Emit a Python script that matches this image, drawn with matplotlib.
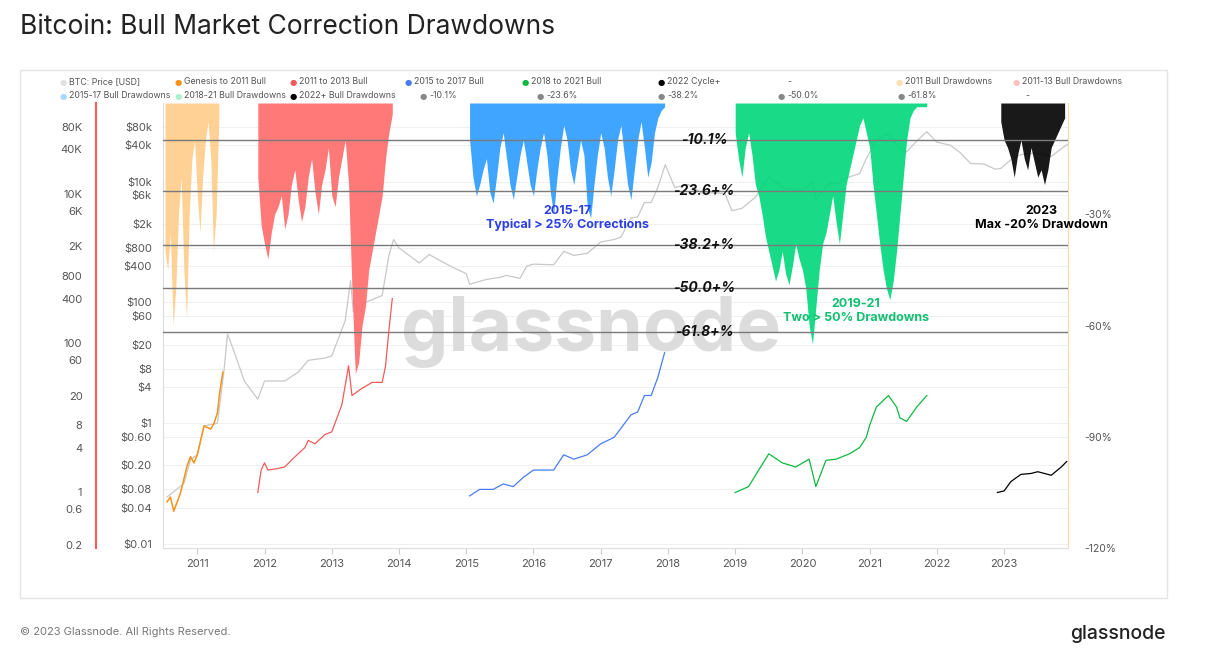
import matplotlib
matplotlib.use("Agg")
import matplotlib.pyplot as plt
import numpy as np
from matplotlib.ticker import FixedLocator, NullLocator

plt.rcParams['font.family'] = ['Inter', 'DejaVu Sans']

# ---------------- data ----------------
price_t = [2010.55,2010.8,2010.9,2011.0,2011.1,2011.3,2011.4,2011.45,2011.55,2011.7,2011.9,2012.0,2012.3,2012.5,2012.65,2012.9,2013.0,2013.2,2013.28,2013.32,2013.5,2013.75,2013.85,2013.92,2014.0,2014.15,2014.3,2014.45,2014.6,2014.8,2015.0,2015.05,2015.3,2015.5,2015.6,2015.8,2015.9,2016.0,2016.3,2016.45,2016.6,2016.8,2017.0,2017.2,2017.3,2017.45,2017.55,2017.65,2017.75,2017.85,2017.96,2018.1,2018.3,2018.5,2018.7,2018.85,2018.95,2019.1,2019.3,2019.5,2019.7,2019.9,2020.0,2020.15,2020.2,2020.4,2020.55,2020.65,2020.85,2020.95,2021.1,2021.28,2021.45,2021.55,2021.7,2021.85,2022.0,2022.2,2022.35,2022.5,2022.7,2022.87,2022.95,2023.1,2023.25,2023.5,2023.7,2023.85,2023.95]
price_v = [0.06,0.1,0.25,0.3,0.9,1.0,8,30,15,5,2.5,5,5,7,11,12,13,50,230,70,100,130,600,1100,800,600,450,620,500,380,300,200,240,260,280,250,400,430,420,700,600,650,1000,1100,1200,2500,2600,4500,4500,8000,19000,8000,9000,6500,6500,6300,3300,3600,5500,12000,8000,7200,7200,9800,5000,9500,9200,11500,13500,24000,48000,63000,35000,31000,47000,67000,45000,40000,30000,20000,19500,16000,16500,23000,28000,30000,26000,35000,42000]

genesis_t = [2010.55,2010.6,2010.65,2010.75,2010.85,2010.9,2010.95,2011.0,2011.1,2011.15,2011.2,2011.25,2011.3,2011.33,2011.38]
genesis_v = [0.05,0.06,0.035,0.07,0.2,0.28,0.22,0.3,0.9,0.85,0.8,1.0,1.5,3,7]

bull13_t = [2011.9,2011.95,2012.0,2012.05,2012.2,2012.3,2012.45,2012.6,2012.65,2012.75,2012.9,2013.0,2013.15,2013.25,2013.3,2013.45,2013.6,2013.75,2013.8,2013.85,2013.9]
bull13_v = [1,2,2.5,2,2.1,2.2,3,4,5,4.5,6,6.5,15,50,20,25,30,30,50,150,400]

bull17_t = [2015.05,2015.2,2015.4,2015.55,2015.7,2015.85,2016.0,2016.3,2016.45,2016.6,2016.8,2017.0,2017.2,2017.45,2017.55,2017.65,2017.75,2017.85,2017.95]
bull17_v = [0.9,1.1,1.1,1.3,1.2,1.6,2.0,2.0,3.2,2.8,3.2,4.5,5.5,11,12,20,20,35,75]

bull21_t = [2019.0,2019.2,2019.35,2019.5,2019.7,2019.9,2020.1,2020.2,2020.35,2020.5,2020.7,2020.85,2020.95,2021.0,2021.1,2021.28,2021.4,2021.45,2021.55,2021.7,2021.85]
bull21_v = [1.0,1.2,2.0,3.3,2.5,2.2,2.8,1.2,2.7,2.8,3.3,4,5.5,8,14,20,14,10,9,14,20]

cyc22_t = [2022.9,2023.0,2023.1,2023.25,2023.4,2023.5,2023.6,2023.7,2023.85,2023.93]
cyc22_v = [1.0,1.05,1.4,1.75,1.8,1.9,1.8,1.7,2.2,2.6]

dd11_t = list(np.round(np.arange(2010.52, 2011.34, 0.04), 2))
dd11_v = [-40,-45,-35,-60,-50,-30,-20,-45,-58,-30,-15,-10,-25,-35,-20,-10,-5,-15,-40,-30,-5]

dd13_t = list(np.round(np.arange(2011.9, 2013.93, 0.05), 2))
dd13_v = [-20,-33,-38,-42,-35,-30,-28,-25,-34,-30,-22,-18,-26,-32,-28,-20,-15,-24,-30,-22,-18,-12,-25,-28,-20,-15,-10,-22,-50,-73,-70,-60,-55,-45,-40,-35,-30,-25,-15,-8,-3]

dd17_t = list(np.round(np.arange(2015.05, 2017.96, 0.05), 2))
dd17_v = [-10,-20,-25,-22,-18,-15,-24,-27,-20,-12,-8,-15,-22,-26,-20,-14,-10,-16,-22,-25,-18,-12,-8,-14,-24,-30,-20,-12,-6,-10,-18,-22,-16,-10,-14,-28,-31,-22,-14,-8,-12,-20,-25,-18,-10,-6,-14,-22,-26,-18,-10,-5,-12,-20,-16,-8,-4,-2,-1]

dd21_t = list(np.round(np.arange(2019.0, 2021.86, 0.05), 2))
dd21_v = [-8,-15,-20,-12,-8,-14,-22,-25,-30,-36,-40,-44,-48,-45,-40,-46,-49,-44,-38,-42,-45,-50,-60,-65,-55,-45,-38,-35,-30,-25,-32,-38,-30,-22,-18,-14,-10,-6,-4,-8,-12,-22,-30,-38,-45,-50,-53,-48,-40,-30,-20,-10,-4,-2,-1,-1,-1,-1]

dd23_t = list(np.round(np.arange(2022.95, 2023.91, 0.05), 2))
dd23_v = [-5,-10,-12,-15,-20,-14,-10,-15,-18,-12,-16,-20,-18,-22,-18,-12,-10,-8,-6,-4]

fib_levels = [-10.1, -23.6, -38.2, -50.0, -61.8]
fib_labels = ['-10.1%', '-23.6+%', '-38.2+%', '-50.0+%', '-61.8+%']
years = list(range(2011, 2024))
price_ticks = [0.01,0.04,0.08,0.2,0.6,1,4,8,20,60,100,400,800,2000,6000,10000,40000,80000]
price_tick_labels = ['$0.01','$0.04','$0.08','$0.20','$0.60','$1','$4','$8','$20','$60','$100','$400','$800','$2k','$6k','$10k','$40k','$80k']
mult_ticks = [0.2,0.6,1,4,8,20,60,100,400,800,2000,6000,10000,40000,80000]
mult_tick_labels = ['0.2','0.6','1','4','8','20','60','100','400','800','2K','6K','10K','40K','80K']
dd_ticks = [-30,-60,-90,-120]

# ---------------- figure ----------------
W, H = 1220, 672
fig = plt.figure(figsize=(W/100, H/100), dpi=100)
def fx(x): return x / W
def fy(y): return 1 - y / H

fig.add_artist(plt.Rectangle((fx(20), fy(598)), fx(1167)-fx(20), fy(70)-fy(598),
                             fill=False, ec='#e4e4e4', lw=1, transform=fig.transFigure))

ax = fig.add_axes([fx(163), fy(548), fx(1068)-fx(163), fy(103)-fy(548)])
ax.set_xlim(2010.49, 2023.95)
ax.set_yscale('log')
ax.set_ylim(0.0086, 200000)
ax.yaxis.set_major_locator(FixedLocator(price_ticks))
ax.yaxis.set_minor_locator(NullLocator())
ax.set_yticklabels(price_tick_labels)
ax.set_xticks(years)
ax.set_xticklabels([str(y) for y in years])
ax.tick_params(axis='both', labelsize=8, colors='#555555', length=0, pad=8)
ax.tick_params(axis='x', length=4, color='#cccccc', pad=4)
for s in ['top', 'right']:
    ax.spines[s].set_visible(False)
ax.spines['left'].set_color('#dddddd')
ax.spines['bottom'].set_color('#dddddd')
for t in price_ticks:
    ax.axhline(t, color='#eeeeee', lw=0.6, zorder=0)
ax.plot(price_t, price_v, color='#c8c8c8', lw=0.9, zorder=1)
ax.text(0.473, 0.485, 'glassnode', transform=ax.transAxes, fontsize=54, color='#dcdcdc',
        ha='center', va='center', fontweight='bold', zorder=0)
ax.plot(genesis_t, genesis_v, color='#f7931a', lw=1.1, zorder=3)

# drawdown axis
ax3 = ax.twinx()
ax3.set_ylim(-120, 0)
ax3.set_yticks(dd_ticks)
ax3.set_yticklabels([f'{t}%' for t in dd_ticks])
ax3.tick_params(labelsize=7.5, colors='#555555', length=0, pad=12)
for s in ['top', 'left', 'bottom']:
    ax3.spines[s].set_visible(False)
ax3.spines['right'].set_color('#ffd9b0')
for t, v, c in [(dd11_t, dd11_v, '#ffcc88'), (dd13_t, dd13_v, '#ff6b6b'),
                (dd17_t, dd17_v, '#2b9bff'), (dd21_t, dd21_v, '#00d67a'),
                (dd23_t, dd23_v, '#000000')]:
    ax3.fill_between(t, 0, v, color=c, lw=0, alpha=0.9, zorder=2)
for lv, lb in zip(fib_levels, fib_labels):
    ax3.axhline(lv, color='#7a7a7a', lw=1, zorder=4)
    ax3.text(2018.54, lv, lb, fontsize=10, fontstyle='italic', fontweight='bold',
             ha='center', va='center', color='#111111', zorder=5)
ax3.text(2016.5, -31, '2015-17\nTypical > 25% Corrections', color='#2a3fe8', fontsize=9,
         fontweight='bold', ha='center', va='center', zorder=6)
ax3.text(2020.8, -56, '2019-21\nTwo > 50% Drawdowns', color='#10c070', fontsize=9,
         fontweight='bold', ha='center', va='center', zorder=6)
ax3.text(2023.55, -31, '2023\nMax -20% Drawdown', color='#000000', fontsize=9,
         fontweight='bold', ha='center', va='center', zorder=6)

# multiple axis (outer left)
ax2 = ax.twinx()
ax2.set_yscale('log')
ax2.set_ylim(0.18, 168000)
ax2.yaxis.set_ticks_position('left')
ax2.yaxis.set_label_position('left')
ax2.spines['left'].set_position(('outward', 48))
ax2.spines['left'].set_color('#ff5a5a')
ax2.spines['left'].set_linewidth(1.5)
for s in ['top', 'right', 'bottom']:
    ax2.spines[s].set_visible(False)
ax2.yaxis.set_major_locator(FixedLocator(mult_ticks))
ax2.yaxis.set_minor_locator(NullLocator())
ax2.set_yticklabels(mult_tick_labels)
ax2.tick_params(labelsize=8, colors='#555555', length=0, pad=10)
ax2.plot(bull13_t, bull13_v, color='#f45a5a', lw=0.9)
ax2.plot(bull17_t, bull17_v, color='#4a7cf0', lw=0.9)
ax2.plot(bull21_t, bull21_v, color='#10b840', lw=0.9)
ax2.plot(cyc22_t, cyc22_v, color='#000000', lw=0.9)

# legend
row1 = [('BTC: Price [USD]', '#e0e0e0'), ('Genesis to 2011 Bull', '#f7931a'),
        ('2011 to 2013 Bull', '#f45a5a'), ('2015 to 2017 Bull', '#4a7cf0'),
        ('2018 to 2021 Bull', '#10b840'), ('2022 Cycle+', '#000000'), ('-', None),
        ('2011 Bull Drawdowns', '#ffe0b0'), ('2011-13 Bull Drawdowns', '#ffc0c0')]
row1_x = [60, 175, 290, 405, 522, 658, 787, 896, 1013]
row2 = [('2015-17 Bull Drawdowns', '#a8d8ff'), ('2018-21 Bull Drawdowns', '#a8f0d0'),
        ('2022+ Bull Drawdowns', '#000000'), ('-10.1%', '#888888'), ('-23.6%', '#888888'),
        ('-38.2%', '#888888'), ('-50.0%', '#888888'), ('-61.8%', '#888888'), ('-', None)]
row2_x = [60, 175, 290, 420, 537, 658, 778, 898, 1025]
for row, xs, yy in [(row1, row1_x, 82), (row2, row2_x, 96)]:
    for (lab, c), x in zip(row, xs):
        if c is not None:
            fig.text(fx(x), fy(yy), '●', color=c, fontsize=6, va='center', ha='left',
                     family=['DejaVu Sans'])
            fig.text(fx(x + 9), fy(yy), lab, color='#555555', fontsize=6.3, va='center', ha='left')
        else:
            fig.text(fx(x), fy(yy), lab, color='#555555', fontsize=6.3, va='center', ha='left')

fig.text(fx(20), fy(27), 'Bitcoin: Bull Market Correction Drawdowns', fontsize=19,
         color='#222222', va='center', ha='left')
fig.text(fx(20), fy(632), '© 2023 Glassnode. All Rights Reserved.', fontsize=8,
         color='#777777', va='center', ha='left')
fig.text(fx(1166), fy(634), 'glassnode', fontsize=14, color='#222222', va='center',
         ha='right', fontweight='medium')

fig.savefig('out.png', dpi=100)
